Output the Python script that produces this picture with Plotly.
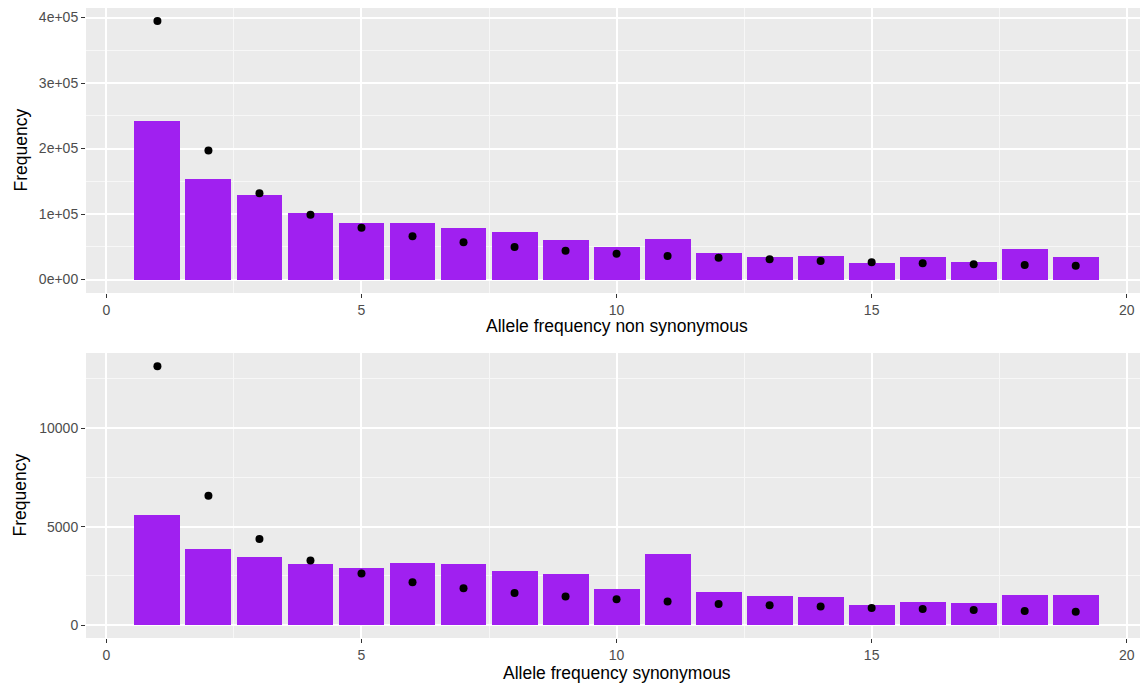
import plotly.graph_objects as go
from plotly.subplots import make_subplots

# allele count classes (1..19)
classes = list(range(1, 20))

# non synonymous: observed counts (bars) and expected counts (points)
nonsyn_observed = [242000, 153000, 129000, 101500, 86000, 86000, 78600, 72500, 60000, 49600,
                   62000, 40500, 34400, 36000, 25200, 34400, 26700, 46600, 34400]
nonsyn_expected = [394700, 197000, 131600, 99000, 79000, 66000, 56800, 49600, 44000, 39400,
                   35900, 33300, 30800, 28200, 26200, 24700, 23200, 22100, 21100]

# synonymous
syn_observed = [5580, 3860, 3450, 3100, 2890, 3150, 3100, 2740, 2590, 1830,
                3600, 1680, 1470, 1420, 1015, 1170, 1120, 1520, 1520]
syn_expected = [13130, 6565, 4370, 3280, 2620, 2180, 1880, 1640, 1455, 1320,
                1200, 1080, 1015, 950, 880, 830, 780, 730, 680]

x_ticks = [0, 5, 10, 15, 20]
top_y_ticks = [0, 100000, 200000, 300000, 400000]
top_y_labels = ["0e+00", "1e+05", "2e+05", "3e+05", "4e+05"]
bottom_y_ticks = [0, 5000, 10000]
bottom_y_labels = ["0", "5000", "10000"]
x_titles = ["Allele frequency non synonymous", "Allele frequency synonymous"]

BAR = "#A020F0"
PANEL = "#EBEBEB"
FONT = "Liberation Sans, Arial, sans-serif"

fig = make_subplots(rows=2, cols=1, vertical_spacing=0.0952)

panels = [
    (nonsyn_observed, nonsyn_expected),
    (syn_observed, syn_expected),
]
for i, (obs, exp) in enumerate(panels, start=1):
    fig.add_trace(go.Bar(x=classes, y=obs, width=0.9, marker=dict(color=BAR, line_width=0),
                         showlegend=False), row=i, col=1)
    fig.add_trace(go.Scatter(x=classes, y=exp, mode="markers",
                             marker=dict(color="black", size=8), showlegend=False),
                  row=i, col=1)

axis_common = dict(
    showgrid=True, gridcolor="white", gridwidth=1.6,
    zeroline=False, showline=False, automargin=False,
    ticks="outside", ticklen=4, tickwidth=1, tickcolor="#333333",
    tickfont=dict(size=14, color="#4D4D4D", family=FONT),
)
minor_grid = dict(showgrid=True, gridcolor="#F7F7F7", gridwidth=0.8, ticks="")

fig.update_xaxes(**axis_common, range=[-0.4, 20.26], tickvals=x_ticks,
                 minor=dict(dtick=2.5, tick0=0, **minor_grid))

fig.update_yaxes(**axis_common)
fig.update_yaxes(range=[-20600, 414500], tickvals=top_y_ticks, ticktext=top_y_labels,
                 minor=dict(dtick=50000, tick0=0, **minor_grid), row=1, col=1)
fig.update_yaxes(range=[-645, 13807], tickvals=bottom_y_ticks, ticktext=bottom_y_labels,
                 minor=dict(dtick=2500, tick0=0, **minor_grid), row=2, col=1)

# axis titles placed like ggplot's
title_font = dict(size=17.5, color="black", family=FONT)
for y_title in [0.7738, 0.2262]:
    fig.add_annotation(text="Frequency", textangle=-90, xref="paper", yref="paper",
                       x=-0.0626, y=y_title, xanchor="center", yanchor="middle",
                       showarrow=False, font=title_font)
for text, y_pos in zip(x_titles, [0.4952, -0.055]):
    fig.add_annotation(text=text, xref="paper", yref="paper", x=0.504, y=y_pos,
                       xanchor="center", yanchor="middle", showarrow=False, font=title_font)

fig.update_layout(
    width=1140, height=685,
    margin=dict(l=86, r=0, t=8, b=47),
    paper_bgcolor="white", plot_bgcolor=PANEL,
    bargap=0, font=dict(family=FONT),
)

fig.write_html("out.html", config={"displayModeBar": False},
               post_script="document.body.style.margin='0';document.body.style.overflow='hidden';")
